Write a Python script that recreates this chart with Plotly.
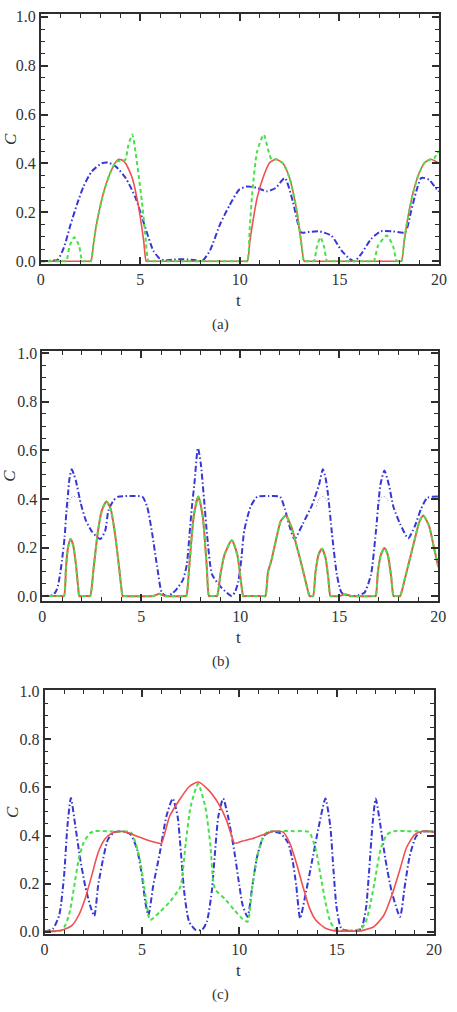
import plotly.graph_objects as go

# ---------------- Panel (a) ----------------
a_red_t = [0, 2.4, 2.52, 2.65, 2.8, 3.13, 3.45, 3.78, 3.94, 4.1, 4.27, 4.6, 4.92, 5.17, 5.3, 5.42,
           10.26, 10.38, 10.5, 10.63, 10.87, 11.2, 11.5, 11.82, 12.17, 12.5, 12.83, 13.07, 13.23, 13.35,
           18.0, 18.12, 18.25, 18.4, 18.7, 19.0, 19.3, 19.59, 19.8, 20]
a_red_c = [0, 0, 0, 0.07, 0.15, 0.273, 0.353, 0.407, 0.417, 0.413, 0.40, 0.34, 0.22, 0.084, 0, 0,
           0, 0, 0.08, 0.15, 0.26, 0.35, 0.404, 0.417, 0.40, 0.34, 0.22, 0.085, 0, 0,
           0, 0, 0.08, 0.16, 0.28, 0.36, 0.405, 0.417, 0.41, 0.40]

a_grn_t = [0, 1.2, 1.29, 1.45, 1.69, 1.93, 2.09, 2.2, 2.42, 2.52, 2.65, 2.8, 3.13, 3.45, 3.78, 4.05, 4.24,
           4.4, 4.6, 4.76, 4.92, 5.08, 5.25, 5.41, 5.52,
           10.26, 10.38, 10.5, 10.63, 10.87, 11.2, 11.44, 11.6, 11.82, 12.17, 12.5, 12.83, 13.07, 13.23,
           13.35, 13.62, 13.72, 13.88, 14.05, 14.22, 14.38, 14.48,
           16.63, 16.73, 16.95, 17.39, 17.7, 17.88, 17.98, 18.02, 18.12, 18.25, 18.4, 18.7, 19.0, 19.3,
           19.59, 19.75, 19.9, 20]
a_grn_c = [0, 0, 0, 0.062, 0.098, 0.062, 0, 0, 0, 0, 0.07, 0.15, 0.273, 0.353, 0.407, 0.412, 0.414,
           0.474, 0.519, 0.448, 0.35, 0.246, 0.11, 0, 0,
           0, 0, 0.14, 0.286, 0.45, 0.518, 0.45, 0.415, 0.417, 0.40, 0.34, 0.22, 0.085, 0,
           0, 0, 0, 0.062, 0.098, 0.062, 0, 0,
           0, 0, 0.065, 0.105, 0.06, 0, 0, 0, 0, 0.08, 0.16, 0.28, 0.36, 0.405,
           0.417, 0.42, 0.44, 0.45]

a_blu_t = [0, 0.5, 0.85, 1.17, 1.5, 1.82, 2.15, 2.56, 3.05, 3.37, 3.78, 4.27, 4.76, 5.25, 5.65,
           5.98, 6.2, 6.6, 7.0, 7.4, 7.8, 8.1, 8.5, 9.0, 9.49, 9.97, 10.38, 10.87, 11.36, 11.8,
           12.26, 12.66, 12.9, 13.07, 13.5, 14.0, 14.6, 15.1, 15.5, 15.75, 16.1, 16.58, 17.07,
           17.7, 18.3, 18.6, 18.86, 19.1, 19.3, 19.51, 19.9, 20]
a_blu_c = [0, 0.002, 0.006, 0.057, 0.15, 0.232, 0.306, 0.367, 0.40, 0.404, 0.387, 0.34, 0.26, 0.138, 0.044,
           0.01, 0.003, 0.006, 0.008, 0.007, 0.004, 0.0, 0.044, 0.15, 0.23, 0.293, 0.306, 0.30, 0.286, 0.30,
           0.34, 0.245, 0.16, 0.118, 0.12, 0.122, 0.104, 0.044, 0.01, 0.0, 0.03, 0.09, 0.122,
           0.122, 0.118, 0.205, 0.286, 0.34, 0.34, 0.333, 0.293, 0.285]

# ---------------- Panel (b) ----------------
b_red_t = [0, 1.0, 1.1, 1.2, 1.3, 1.43, 1.56, 1.7, 1.82, 1.87, 1.95,
           2.33, 2.42, 2.6, 2.8, 3.0, 3.24, 3.45, 3.65, 3.85, 4.0, 4.06, 4.15,
           5.6, 5.75, 5.9, 6.05, 6.2, 7.18, 7.27, 7.45, 7.65, 7.88, 8.1, 8.3, 8.42, 8.5,
           8.75, 8.83, 9.0, 9.2, 9.57, 9.85, 10.05, 10.15, 10.25,
           11.18, 11.27, 11.4, 11.55, 11.84, 12.05, 12.3, 12.58, 12.9, 13.16, 13.4, 13.5, 13.58,
           13.6, 13.68, 13.8, 13.95, 14.12, 14.3, 14.45, 14.55, 14.65,
           15.0, 15.2, 15.4, 15.6, 16.75, 16.84, 16.95, 17.1, 17.28, 17.45, 17.62, 17.74, 17.82,
           17.98, 18.07, 18.3, 18.55, 18.8, 19.04, 19.24, 19.53, 19.78, 20]
b_red_c = [0, 0, 0, 0.12, 0.2, 0.235, 0.21, 0.13, 0.03, 0, 0,
           0, 0, 0.12, 0.26, 0.35, 0.39, 0.36, 0.27, 0.14, 0.03, 0, 0,
           0, 0.005, 0.01, 0.005, 0, 0, 0, 0.15, 0.33, 0.41, 0.33, 0.13, 0, 0,
           0, 0, 0.09, 0.17, 0.23, 0.17, 0.05, 0, 0,
           0, 0, 0.1, 0.14, 0.244, 0.31, 0.332, 0.285, 0.19, 0.108, 0.027, 0, 0,
           0, 0, 0.1, 0.17, 0.195, 0.16, 0.07, 0, 0,
           0, 0.006, 0.006, 0, 0, 0, 0.1, 0.17, 0.198, 0.17, 0.08, 0, 0,
           0, 0, 0.067, 0.149, 0.23, 0.305, 0.332, 0.29, 0.2, 0.12]

b_blu_t = [0, 0.3, 0.56, 0.75, 0.88, 1.0, 1.13, 1.21, 1.3, 1.38, 1.49, 1.6, 1.7, 1.95, 2.2, 2.52,
           2.93, 3.18, 3.34, 3.59, 3.83, 4.2, 4.6, 5.06, 5.3, 5.55, 5.8, 6.04, 6.29, 6.55, 6.78,
           7.11, 7.3, 7.44, 7.56, 7.68, 7.86, 8.0, 8.17, 8.34, 8.58, 9.07, 9.57, 9.75, 9.9, 10.05,
           10.2, 10.53, 10.86, 11.4, 12.01, 12.25, 12.5, 12.74, 13.16, 13.65, 13.98, 14.17, 14.3,
           14.43, 14.63, 14.88, 15.12, 15.53, 16.0, 16.27, 16.6, 16.84, 17.08, 17.28, 17.5, 17.74,
           18.07, 18.48, 18.8, 19.13, 19.45, 20]
b_blu_c = [0, 0.002, 0.005, 0.03, 0.08, 0.15, 0.244, 0.34, 0.42, 0.488, 0.522, 0.5, 0.474, 0.38, 0.312, 0.264,
           0.235, 0.27, 0.352, 0.393, 0.409, 0.412, 0.412, 0.409, 0.367, 0.258, 0.122, 0.014, 0.0, 0.01, 0.028,
           0.068, 0.13, 0.258, 0.37, 0.46, 0.61, 0.55, 0.40, 0.237, 0.088, 0.033, 0.0, 0.02, 0.06, 0.15,
           0.27, 0.37, 0.409, 0.412, 0.409, 0.359, 0.285, 0.235, 0.298, 0.38, 0.46, 0.522, 0.49,
           0.42, 0.258, 0.088, 0.014, 0.0, 0.005, 0.014, 0.088, 0.258, 0.46, 0.517, 0.46, 0.366,
           0.298, 0.238, 0.285, 0.359, 0.405, 0.41]

# faint dotted companion curve in (b), visible only where it separates from the blue one
b_dot_t = [1.3, 1.45, 1.6, 1.8, 1.95, None, 7.7, 7.86, 8.0, None, 13.85, 14.0, 14.2, 14.4, None,
           16.95, 17.1, 17.3, 17.5]
b_dot_c = [0.36, 0.405, 0.41, 0.405, 0.38, None, 0.39, 0.41, 0.39, None, 0.37, 0.405, 0.41, 0.39, None,
           0.37, 0.405, 0.41, 0.39]

# ---------------- Panel (c) ----------------
c_red_t = [0, 0.5, 0.92, 1.42, 1.75, 2.08, 2.42, 2.75, 3.08, 3.42, 3.92, 4.33, 4.75, 5.42, 5.92, 6.0,
           6.42, 6.92, 7.42, 7.88, 8.42, 8.92, 9.33, 9.58, 9.75, 10.17, 10.58, 11.25, 11.75, 12.25,
           12.58, 12.92, 13.25, 13.58, 13.92, 14.42, 14.92, 15.6, 16.25, 16.92, 17.42, 17.83, 18.25,
           18.58, 19.0, 19.42, 20]
c_red_c = [0, 0.002, 0.007, 0.027, 0.068, 0.137, 0.233, 0.329, 0.383, 0.408, 0.418, 0.41, 0.397, 0.377, 0.367, 0.366,
           0.48, 0.548, 0.603, 0.623, 0.589, 0.534, 0.466, 0.404, 0.368, 0.377, 0.385, 0.404, 0.418, 0.414,
           0.37, 0.288, 0.192, 0.103, 0.048, 0.014, 0.003, 0.002, 0.003, 0.021, 0.068, 0.151, 0.26,
           0.349, 0.404, 0.418, 0.414]

c_grn_t = [0, 0.6, 0.92, 1.25, 1.5, 1.75, 2.0, 2.33, 2.58, 3.2, 3.8, 4.42, 4.67, 4.92, 5.08, 5.25, 5.42,
           5.92, 6.42, 6.92, 7.0, 7.25, 7.5, 7.88, 8.25, 8.5, 8.75, 9.25, 9.75, 10.17, 10.42, 10.67,
           10.92, 11.17, 11.42, 12.0, 12.8, 13.58, 13.92, 14.17, 14.42, 14.67, 14.92, 15.58, 16.25,
           16.5, 16.75, 17.0, 17.25, 17.58, 17.92, 18.6, 19.3, 20]
c_grn_c = [0, 0.002, 0.007, 0.068, 0.178, 0.301, 0.37, 0.41, 0.418, 0.418, 0.416, 0.414, 0.37, 0.288, 0.205, 0.11, 0.048,
           0.082, 0.123, 0.178, 0.192, 0.37, 0.521, 0.615, 0.52, 0.37, 0.178, 0.137, 0.089, 0.052, 0.041, 0.192,
           0.315, 0.383, 0.414, 0.418, 0.418, 0.414, 0.342, 0.233, 0.123, 0.041, 0.011, 0.003, 0.011,
           0.041, 0.123, 0.233, 0.342, 0.404, 0.418, 0.418, 0.418, 0.418]

c_blu_t = [0, 0.42, 0.75, 1.0, 1.17, 1.35, 1.58, 1.83, 2.08, 2.33, 2.55, 2.75, 3.0, 3.25, 3.58, 4.0,
           4.42, 4.75, 5.0, 5.17, 5.33, 5.58, 5.92, 6.25, 6.58, 6.83, 7.0, 7.17, 7.42, 7.75, 8.08,
           8.33, 8.58, 8.75, 8.92, 9.17, 9.42, 9.75, 10.0, 10.17, 10.42, 10.67, 10.92, 11.25, 11.58,
           12.08, 12.5, 12.75, 12.92, 13.12, 13.42, 13.75, 14.08, 14.42, 14.67, 14.83, 15.0, 15.25,
           15.83, 16.25, 16.5, 16.67, 16.83, 17.0, 17.25, 17.5, 17.83, 18.25, 18.5, 18.75, 19.08,
           19.42, 20]
c_blu_c = [0, 0.011, 0.068, 0.233, 0.438, 0.556, 0.438, 0.301, 0.192, 0.11, 0.065, 0.192, 0.301, 0.383, 0.414, 0.418,
           0.404, 0.342, 0.233, 0.123, 0.068, 0.192, 0.329, 0.479, 0.554, 0.479, 0.329, 0.164, 0.041, 0.007, 0.007,
           0.041, 0.164, 0.329, 0.479, 0.554, 0.479, 0.329, 0.192, 0.11, 0.062, 0.192, 0.315, 0.397, 0.416,
           0.41, 0.37, 0.288, 0.192, 0.055, 0.164, 0.301, 0.438, 0.554, 0.438, 0.26, 0.096, 0.011,
           0.003, 0.011, 0.096, 0.26, 0.438, 0.554, 0.438, 0.301, 0.164, 0.062, 0.192, 0.315, 0.397,
           0.416, 0.416]

panel_labels = ["(a)", "(b)", "(c)"]

RED = "rgb(240,80,80)"
GREEN = "rgb(70,225,70)"
BLUE = "rgb(55,55,215)"
FONT = "Liberation Serif, 'Times New Roman', 'DejaVu Serif', serif"
AXC = "#2e2e2e"

fig = go.Figure()

def add(t, c, color, dash, width, ax, shape="spline"):
    fig.add_trace(go.Scatter(x=t, y=c, mode="lines", xaxis="x" + ax, yaxis="y" + ax,
                             line=dict(color=color, dash=dash, width=width, shape=shape, smoothing=0.6),
                             showlegend=False, hoverinfo="skip", connectgaps=False))

# (a)
add(a_blu_t, a_blu_c, BLUE, "6px,2.5px,1.5px,2.5px", 2.0, "")
add(a_red_t, a_red_c, RED, "solid", 1.6, "")
add(a_grn_t, a_grn_c, GREEN, "4px,3px", 2.0, "")
# (b)
add(b_dot_t, b_dot_c, "rgb(140,140,170)", "1px,2px", 1.0, "2")
add(b_blu_t, b_blu_c, BLUE, "6px,2.5px,1.5px,2.5px", 2.0, "2")
add(b_red_t, b_red_c, RED, "solid", 2.0, "2")
add(b_red_t, b_red_c, GREEN, "4px,3px", 2.0, "2")
# (c)
add(c_blu_t, c_blu_c, BLUE, "6px,2.5px,1.5px,2.5px", 2.0, "3")
add(c_grn_t, c_grn_c, GREEN, "4px,3px", 2.0, "3")
add(c_red_t, c_red_c, RED, "solid", 1.6, "3")

W, H = 457, 1012
# pixel frames: (left, right, top, bottom), y ranges
frames = [
    (37.7, 446.7, 7.5, 260.5, [-0.012, 1.01]),
    (39.3, 446.0, 348.3, 601.7, [-0.02, 1.01]),
    (41.7, 441.7, 692.3, 939.3, [-0.011, 1.004]),
]

axis_common = dict(
    showline=True, linecolor=AXC, linewidth=1.6, mirror="allticks",
    ticks="inside", ticklen=7, tickwidth=1.5, tickcolor=AXC,
    showgrid=False, zeroline=False,
    tickfont=dict(family=FONT, size=16, color="#333"),
)

layout = dict(width=W, height=H, margin=dict(l=0, r=0, t=0, b=0),
              paper_bgcolor="white", plot_bgcolor="white", showlegend=False)

annotations = []
for i, (l, r, t, b, yr) in enumerate(frames):
    sfx = "" if i == 0 else str(i + 1)
    layout["xaxis" + sfx] = dict(
        axis_common, domain=[l / W, r / W], range=[0, 20], anchor="y" + sfx,
        tickmode="linear", tick0=0, dtick=5,
        minor=dict(ticks="inside", ticklen=4, tickwidth=1.2, tickcolor=AXC, tick0=0, dtick=1, showgrid=False),
    )
    layout["yaxis" + sfx] = dict(
        axis_common, domain=[1 - b / H, 1 - t / H], range=yr, anchor="x" + sfx,
        tickmode="linear", tick0=0, dtick=0.2, tickformat=".1f",
        minor=dict(ticks="inside", ticklen=4, tickwidth=1.2, tickcolor=AXC, dtick=0.05, tick0=0, showgrid=False),
    )
    # y title "C"
    annotations.append(dict(text="<i>C</i>", x=(6 if i < 2 else 9) / W, y=1 - (t + b) / 2 / H,
                            xref="paper", yref="paper", showarrow=False, textangle=-90,
                            font=dict(family=FONT, size=17, color="#333"), xanchor="center", yanchor="middle"))
    # x title "t"
    annotations.append(dict(text="t", x=241 / W, y=1 - (b + 37) / H,
                            xref="paper", yref="paper", showarrow=False,
                            font=dict(family=FONT, size=17, color="#333"), xanchor="center", yanchor="middle"))
    # panel label
    annotations.append(dict(text=panel_labels[i], x=222.5 / W, y=1 - (b + 61) / H,
                            xref="paper", yref="paper", showarrow=False,
                            font=dict(family=FONT, size=15, color="#333"), xanchor="center", yanchor="middle"))

layout["annotations"] = annotations
fig.update_layout(**layout)
fig.write_html("out.html")
